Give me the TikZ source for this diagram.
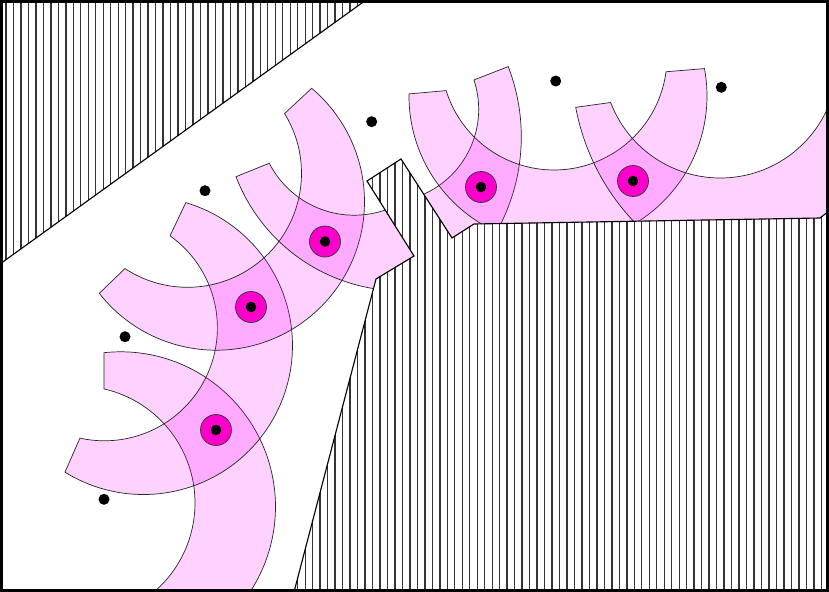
\documentclass[tikz,border=0pt]{standalone}
\usetikzlibrary{calc}

\definecolor{bandpink}{RGB}{255,0,255}
\definecolor{robot}{RGB}{255,0,204}

\tikzset{
  band/.style={draw=black!85, line width=0.5pt, fill=bandpink, fill opacity=0.18},
  hatch/.style={black!80, line width=0.95pt},
  wall/.style={draw=black, line width=0.8pt},
  robotdisc/.style={fill=robot, draw=black!80, line width=0.5pt}
}

\begin{document}
\begin{tikzpicture}[x=0.025cm, y=-0.025cm]
  \useasboundingbox (0,0) rectangle (829,592);
  \fill[white] (0,0) rectangle (829,592);

  % swept bands: outer circle, then inner circle
  \begin{scope}
    \clip (0,0) rectangle (829,592);
    \foreach \ox/\oy/\R/\oa/\ob/\ix/\iy/\r/\ia/\ib in {
      120.5/506.8/155/-96.1/60/78/503/117/60/-77.2,
      143.5/345.5/149/121.8/-73.5/104.4/327.8/113/-54.5/102.5,
      216.1/201.8/148.4/141.9/-49.9/187.5/173.3/114/-31.6/123.3,
      402.2/112.9/178/159/80/354.2/119.8/95.4/50/152.9,
      326.3/136.8/195/-21.1/40/385.7/109.3/93/90/-18.4,
      558/96/149/180.8/-10.6/554/57/113/7.5/162.7,
      800.3/64.9/228.6/169.3/80/720.3/60.6/117.4/-10/159.1}
      \draw[band] ($(\ox,\oy)+(\oa:\R)$) arc[start angle=\oa, end angle=\ob, radius=\R]
        -- ($(\ix,\iy)+(\ia:\r)$) arc[start angle=\ia, end angle=\ib, radius=\r] -- cycle;
  \end{scope}

  % obstacles
  \begin{scope}
    \clip (0,0) -- (366,0) -- (0,264) -- cycle;
    \fill[white] (0,0) rectangle (829,592);
    \foreach \i in {0,...,110}
      \draw[hatch] ({6+7.48*\i},0) -- ++(0,592);
  \end{scope}
  \draw[wall] (366,0) -- (0,264);

  \begin{scope}
    \clip (294,592) -- (376,279) -- (414,256) -- (367,181) -- (401,159) -- (452,238)
      -- (474,224) -- (820,218) -- (829,211) -- (829,592) -- cycle;
    \fill[white] (0,0) rectangle (829,592);
    \foreach \i in {0,...,110}
      \draw[hatch] ({6+7.48*\i},0) -- ++(0,592);
  \end{scope}
  \draw[wall] (294,592) -- (376,279) -- (414,256) -- (367,181) -- (401,159) -- (452,238)
    -- (474,224) -- (820,218) -- (829,211);

  % robot positions
  \foreach \n/\x/\y in {1/216/430, 2/251/307, 3/325/241.5, 4/481/187, 5/633/181} {
    \coordinate (q\n) at (\x,\y);
    \draw[robotdisc] (q\n) circle[radius=15.5];
    \fill (q\n) circle[radius=5.3];
  }

  % landmarks
  \foreach \n/\x/\y in {1/104/499.3, 2/125/336.7, 3/205/190.7, 4/371.7/121.7, 5/555.7/81, 6/721.3/87.3} {
    \coordinate (m\n) at (\x,\y);
    \fill (m\n) circle[radius=5.5];
  }

  \draw[line width=0.075cm] (1.5,1.5) rectangle (827.5,590.5);
\end{tikzpicture}
\end{document}
